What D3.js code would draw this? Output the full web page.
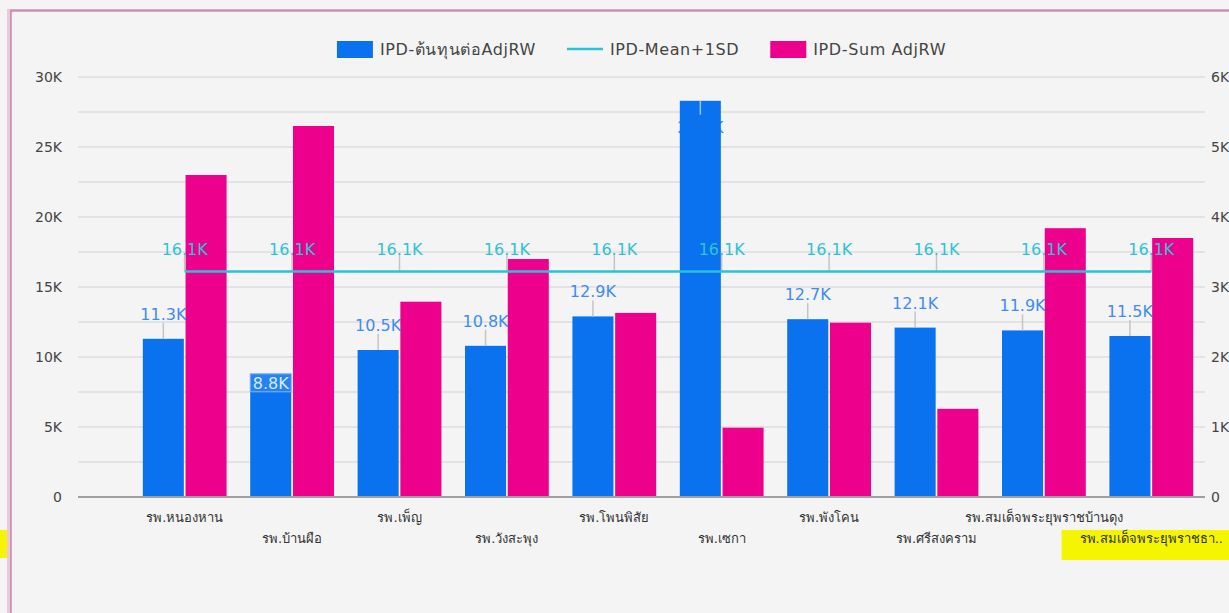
<!DOCTYPE html>
<html>
<head>
<meta charset="utf-8">
<script src="https://cdn.jsdelivr.net/npm/d3@7"></script>
<style>
  html, body { margin: 0; padding: 0; background: #f4f4f4; }
  svg { display: block; }
  text { font-family: "DejaVu Sans", "Noto Sans", sans-serif; }
</style>
</head>
<body>
<svg id="chart" width="1229" height="613"></svg>
<script>
// ---------------- data ----------------
const categories = [
  "รพ.หนองหาน", "รพ.บ้านผือ", "รพ.เพ็ญ", "รพ.วังสะพุง", "รพ.โพนพิสัย",
  "รพ.เซกา", "รพ.พังโคน", "รพ.ศรีสงคราม", "รพ.สมเด็จพระยุพราชบ้านดุง", "รพ.สมเด็จพระยุพราชธาตุพนม"
];
const costPerAdjRW = [11300, 8800, 10500, 10800, 12900, 28300, 12700, 12100, 11900, 11500];
const meanPlus1SD  = [16100, 16100, 16100, 16100, 16100, 16100, 16100, 16100, 16100, 16100];
const sumAdjRW     = [4600, 5300, 2790, 3400, 2630, 990, 2490, 1260, 3840, 3700];
const leftTicks  = [0, 5000, 10000, 15000, 20000, 25000, 30000];
const rightTicks = [0, 1000, 2000, 3000, 4000, 5000, 6000];
const seriesNames = ["IPD-ต้นทุนต่อAdjRW", "IPD-Mean+1SD", "IPD-Sum AdjRW"];

// ---------------- style / layout ----------------
const W = 1229, H = 613;
const C_BLUE = "#0a72ee", C_BLUE_LBL = "#3f8cf3", C_PINK = "#ec008c", C_CYAN = "#26c4d8";
const plotL = 78, plotR = 1205, plotT = 77, plotB = 497;
const labelInsideBox = new Set(["รพ.บ้านผือ"]);   // label drawn as a boxed label on the bar

const svg = d3.select("#chart");
const fmtK = v => v === 0 ? "0" : d3.format(".1f")(v / 1000).replace(/\.0$/, "") + "K";
const fmtK1 = v => d3.format(".1f")(v / 1000) + "K";

svg.append("rect").attr("width", W).attr("height", H).attr("fill", "#f4f4f4");
// frame
svg.append("rect").attr("x", 10.5).attr("y", 10.5).attr("width", W + 20).attr("height", H + 20)
  .attr("fill", "none").attr("stroke", "#cf8db1").attr("stroke-width", 2.5);
svg.append("rect").attr("x", 7).attr("y", 9).attr("width", 3).attr("height", H)
  .attr("fill", "#e9c9da");

const yL = d3.scaleLinear().domain([0, 30000]).range([plotB, plotT]);
const yR = d3.scaleLinear().domain([0, 6000]).range([plotB, plotT]);
const x = d3.scaleBand().domain(categories).range([131, plotR]).paddingInner(0.22).paddingOuter(0.11);
const xs = d3.scaleBand().domain([0, 1]).range([0, x.bandwidth()]).paddingInner(0.04);

// gridlines (every 2.5K)
const gridVals = d3.range(2500, 30001, 2500);
svg.append("g").selectAll("line").data(gridVals).join("line")
  .attr("x1", plotL).attr("x2", plotR)
  .attr("y1", d => yL(d)).attr("y2", d => yL(d))
  .attr("stroke", "#dedede").attr("stroke-width", 1.6);

// left axis
const axL = svg.append("g").attr("transform", `translate(${plotL - 16},0)`)
  .call(d3.axisLeft(yL).tickValues(leftTicks).tickFormat(fmtK).tickSize(0).tickPadding(0));
axL.select(".domain").remove();
axL.selectAll("text").attr("font-size", 14).attr("fill", "#444")
  .attr("font-family", "DejaVu Sans, sans-serif").attr("dy", "0.35em");

// right axis
const axR = svg.append("g").attr("transform", `translate(${plotR + 6},0)`)
  .call(d3.axisRight(yR).tickValues(rightTicks).tickFormat(fmtK).tickSize(0).tickPadding(0));
axR.select(".domain").remove();
axR.selectAll("text").attr("font-size", 14).attr("fill", "#444")
  .attr("font-family", "DejaVu Sans, sans-serif").attr("dy", "0.35em");

// blue labels placed under the bars when they would leave the plot top
const gLblUnder = svg.append("g");

// bars
const gBars = svg.append("g");
categories.forEach((c, i) => {
  const x0 = x(c);
  gBars.append("rect")
    .attr("x", x0 + xs(0)).attr("width", xs.bandwidth())
    .attr("y", yL(costPerAdjRW[i])).attr("height", plotB - yL(costPerAdjRW[i]))
    .attr("fill", C_BLUE);
  gBars.append("rect")
    .attr("x", x0 + xs(1)).attr("width", xs.bandwidth())
    .attr("y", yR(sumAdjRW[i])).attr("height", plotB - yR(sumAdjRW[i]))
    .attr("fill", C_PINK);
});

// baseline
svg.append("line").attr("x1", plotL).attr("x2", plotR).attr("y1", plotB).attr("y2", plotB)
  .attr("stroke", "#a0a0a0").attr("stroke-width", 2);

// blue value labels
const gLbl = svg.append("g");
categories.forEach((c, i) => {
  const cx = x(c) + xs(0) + xs.bandwidth() / 2;
  const top = yL(costPerAdjRW[i]);
  const txt = fmtK1(costPerAdjRW[i]);
  if (labelInsideBox.has(c)) {
    const bw = xs.bandwidth();
    gLbl.append("rect").attr("x", x(c) + xs(0)).attr("y", top).attr("width", bw).attr("height", 18)
      .attr("fill", "#2582f3").attr("stroke", "#86b6f8").attr("stroke-width", 1);
    gLbl.append("text").attr("x", cx).attr("y", top + 15).attr("text-anchor", "middle")
      .attr("font-size", 16).attr("fill", "#d9e8ff").text(txt);
  } else if (top - 19 - 12 < plotT) {
    gLblUnder.append("text").attr("x", cx).attr("y", top + 32).attr("text-anchor", "middle")
      .attr("font-size", 16).attr("fill", C_BLUE_LBL).text(txt);
    gLbl.append("line").attr("x1", cx).attr("x2", cx).attr("y1", top).attr("y2", top + 14)
      .attr("stroke", "#9cc0f0").attr("stroke-width", 1.5);
  } else {
    gLbl.append("line").attr("x1", cx).attr("x2", cx).attr("y1", top).attr("y2", top - 16)
      .attr("stroke", "#c4c4c4").attr("stroke-width", 1.5);
    gLbl.append("text").attr("x", cx).attr("y", top - 19).attr("text-anchor", "middle")
      .attr("font-size", 16).attr("fill", C_BLUE_LBL).text(txt);
  }
});

// mean line
const line = d3.line().x((d, i) => x(categories[i]) + x.bandwidth() / 2).y(d => yL(d));
categories.forEach((c, i) => {
  const cx = x(c) + x.bandwidth() / 2, cy = yL(meanPlus1SD[i]);
  svg.append("line").attr("x1", cx).attr("x2", cx).attr("y1", cy).attr("y2", cy - 18)
    .attr("stroke", "#c4c4c4").attr("stroke-width", 1.5);
});
svg.append("path").datum(meanPlus1SD).attr("d", line)
  .attr("fill", "none").attr("stroke", C_CYAN).attr("stroke-width", 2.5);
categories.forEach((c, i) => {
  const cx = x(c) + x.bandwidth() / 2, cy = yL(meanPlus1SD[i]);
  svg.append("text").attr("x", cx).attr("y", cy - 17).attr("text-anchor", "middle")
    .attr("font-size", 16).attr("fill", "#2fc3d6").text(fmtK1(meanPlus1SD[i]));
});

// x labels (staggered)
const gX = svg.append("g");
const hl = gX.append("g");
categories.forEach((c, i) => {
  const cx = x(c) + x.bandwidth() / 2;
  const t = gX.append("text").attr("x", cx).attr("y", i % 2 === 0 ? 522 : 543)
    .attr("text-anchor", "middle").attr("font-size", 13).attr("fill", "#333").text(c);
  // truncate to fit within page
  let s = c;
  while (t.node().getBBox().x + t.node().getBBox().width > W - 4 && s.length > 3) {
    s = s.slice(0, -1);
    t.text(s + "..");
  }
  if (i === categories.length - 1) {
    const bb = t.node().getBBox();
    hl.append("rect").attr("x", bb.x - 18).attr("y", 530).attr("width", W - bb.x + 18).attr("height", 30)
      .attr("fill", "#f5f500");
  }
});
svg.append("rect").attr("x", 0).attr("y", 530).attr("width", 7).attr("height", 28).attr("fill", "#f5f500");

// legend
const lg = svg.append("g");
let lx = 0;
seriesNames.forEach((n, i) => {
  const g = lg.append("g").attr("transform", `translate(${lx},0)`);
  if (i === 1) {
    g.append("line").attr("x1", 0).attr("x2", 36).attr("y1", 49).attr("y2", 49)
      .attr("stroke", C_CYAN).attr("stroke-width", 2.5);
  } else {
    g.append("rect").attr("x", 0).attr("y", 41).attr("width", 36).attr("height", 17)
      .attr("fill", i === 0 ? C_BLUE : C_PINK);
  }
  const t = g.append("text").attr("x", 43).attr("y", 55).attr("font-size", 16)
    .attr("letter-spacing", 0.6).attr("fill", "#444").text(n);
  lx += 43 + t.node().getComputedTextLength() + 31;
});
const lw = lx - 31;
lg.attr("transform", `translate(${(plotL + plotR) / 2 - lw / 2},0)`);
</script>
</body>
</html>
